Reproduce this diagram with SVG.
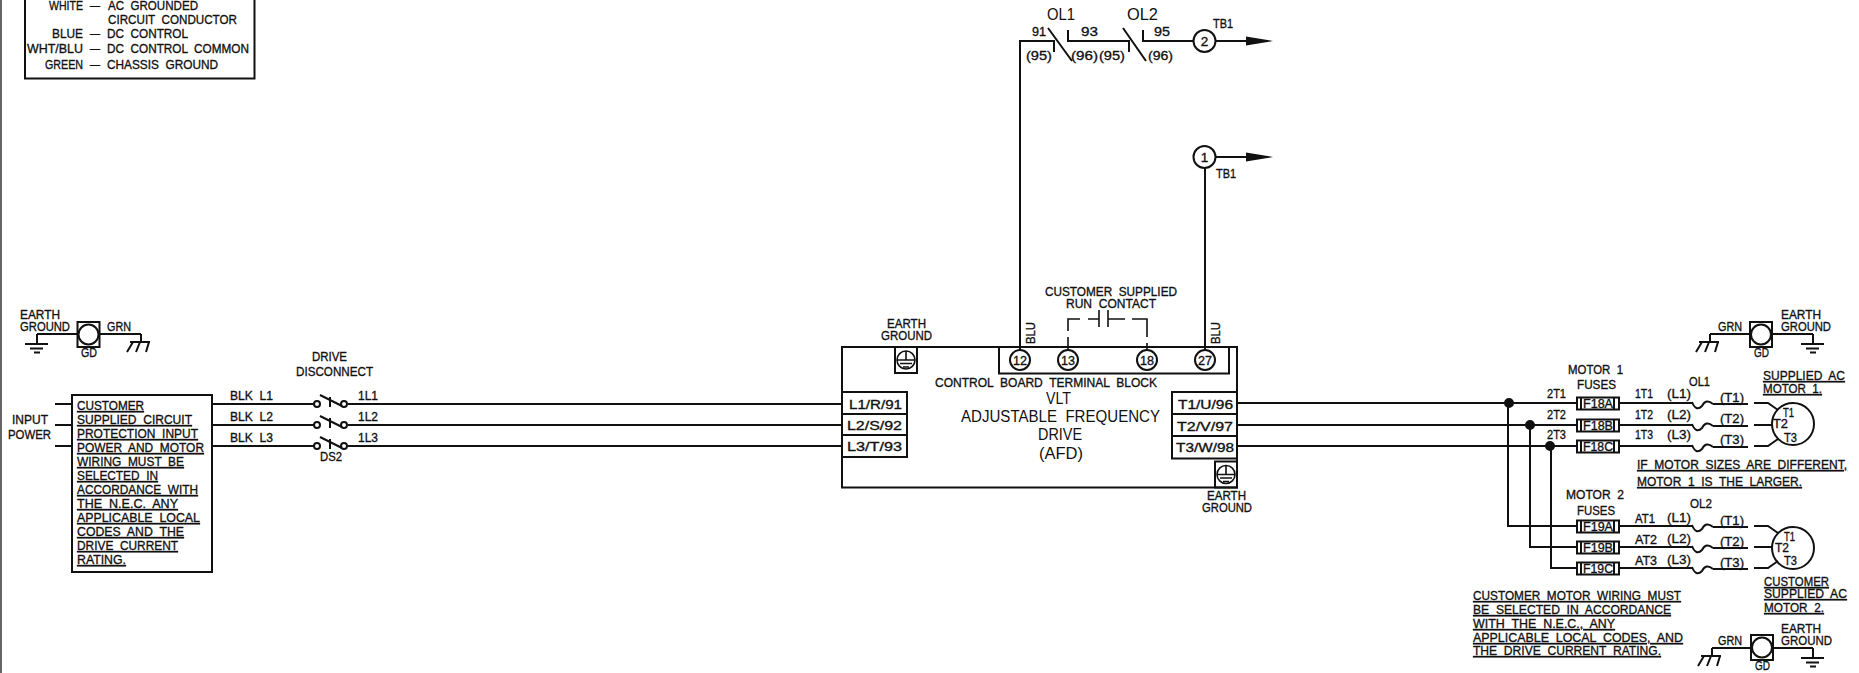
<svg xmlns="http://www.w3.org/2000/svg" width="1859" height="673" viewBox="0 0 1859 673">
<style>
text{font-family:"Liberation Sans",Arial,sans-serif;font-size:13.5px;fill:#111;stroke:#111;stroke-width:.35;white-space:pre}
.u{text-decoration:underline;text-decoration-thickness:1.6px;text-underline-offset:2px}
.l{font-size:16px;stroke-width:0}
.m{text-anchor:middle}
.w,.w *{fill:none;stroke:#111;stroke-width:2}
.t,.t *{fill:none;stroke:#111;stroke-width:1.6}
.d{fill:#111;stroke:#111}
</style>
<defs>
<g id="gnd" class="w"><path d="M0 0V10M-12 10H11M-7 14.500H6M-3 18.500H3"/></g>
<g id="chs" class="w"><path d="M0 0V8M-11 8H9M-8 8L-14 18M-1 8L-5 18M8 8L5 18"/></g>
<g id="gdbox" class="w"><rect x="-11" y="-12.500" width="22" height="25"/><circle r="10"/></g>
<g id="earthbox" class="w"><rect x="-11" y="-13" width="22" height="26"/><circle r="9" class="t"/><path class="t" d="M0 -9V0M-9 0H9M-6 3.500H6M-3 7H3"/></g>
<g id="sw"><circle cx="0" r="3" class="w" fill="none"/><circle cx="27" r="3" class="w" fill="none"/><path class="w" d="M3 -9L25 2M13 -7V3"/></g>
<g id="ol" class="w"><path d="M0 -1Q4 9 10 3Q14 -5 21 1"/></g>
<g id="fuse" class="w"><rect x="0" y="-5.500" width="42" height="12"/><path d="M4 -5.500V6.500M37 -5.500V6.500"/></g>
<marker id="arr" viewBox="0 0 27 10" markerWidth="27" markerHeight="10" refX="0" refY="5" markerUnits="userSpaceOnUse" orient="auto"><path d="M0 0.500L27 5L0 9.500Z" fill="#111"/></marker>
</defs>

<rect x="0" y="0" width="2" height="673" fill="#666"/>

<g id="connectors" class="w">
<path d="M55 404H72M55 425H72M55 446H72"/>
<path d="M212 404H314M212 425H314M212 446H314"/>
<path d="M348 404H842M348 425H842M348 446H842"/>
<path d="M1237 403H1577M1237 425H1577M1237 446H1577"/>
<path d="M1508 403V526H1577M1530 425V547H1577M1551 446V568H1577"/>
<path d="M1619 403H1692M1619 425H1692M1619 446H1692"/>
<path d="M1620 526H1692M1620 547H1692M1620 568H1692"/>
<path d="M1713 404H1748M1713 426H1748M1713 447H1748M1713 527H1748M1713 548H1748M1713 569H1748"/>
<path d="M1754 403H1768L1778 410M1754 425H1772M1754 446H1768L1778 439"/>
<path d="M1754 526H1768L1778 533M1754 547H1772M1754 568H1768L1778 561"/>
<path d="M1020 350V41H1054V52M1048 28L1072 61M1068 30V41H1129V52M1123 28L1146 61M1143 30V41H1194"/>
<path d="M1216 41H1246" marker-end="url(#arr)"/>
<path d="M1216 157H1246" marker-end="url(#arr)"/>
<path d="M1205 168V350"/>
<path class="t" d="M1068 350V337M1068 331V319H1080M1088 319H1099M1099 310V327M1108 310V327M1108 319H1125M1132 319H1147V337M1147 343V350"/>
<circle cx="1509" cy="403" r="4" class="d"/>
<circle cx="1530" cy="425" r="4" class="d"/>
<circle cx="1550" cy="446" r="4" class="d"/>
</g>

<g id="legend">
<path class="w" d="M25 -5V78.500H254.500V-5"/>
<text x="49" y="10" textLength="34" lengthAdjust="spacingAndGlyphs">WHITE</text>
<text x="90" y="10" textLength="10" lengthAdjust="spacingAndGlyphs">–</text>
<text x="108" y="10" textLength="90" lengthAdjust="spacingAndGlyphs">AC  GROUNDED</text>
<text x="108" y="24" textLength="129" lengthAdjust="spacingAndGlyphs">CIRCUIT  CONDUCTOR</text>
<text x="52" y="38" textLength="31" lengthAdjust="spacingAndGlyphs">BLUE</text>
<text x="90" y="38" textLength="10" lengthAdjust="spacingAndGlyphs">–</text>
<text x="107" y="38" textLength="81" lengthAdjust="spacingAndGlyphs">DC  CONTROL</text>
<text x="27" y="53" textLength="56" lengthAdjust="spacingAndGlyphs">WHT/BLU</text>
<text x="90" y="53" textLength="10" lengthAdjust="spacingAndGlyphs">–</text>
<text x="107" y="53" textLength="142" lengthAdjust="spacingAndGlyphs">DC  CONTROL  COMMON</text>
<text x="45" y="69" textLength="38" lengthAdjust="spacingAndGlyphs">GREEN</text>
<text x="90" y="69" textLength="10" lengthAdjust="spacingAndGlyphs">–</text>
<text x="107" y="69" textLength="111" lengthAdjust="spacingAndGlyphs">CHASSIS  GROUND</text>
</g>

<g id="ground-left">
<path class="w" d="M37 334H77M100 334H141"/>
<use href="#gnd" x="37" y="334"/><use href="#chs" x="141" y="334"/><use href="#gdbox" x="88.500" y="334.500"/>
<text x="20" y="319" textLength="40" lengthAdjust="spacingAndGlyphs">EARTH</text>
<text x="20" y="331" textLength="50" lengthAdjust="spacingAndGlyphs">GROUND</text>
<text x="107" y="331" textLength="24" lengthAdjust="spacingAndGlyphs">GRN</text>
<text x="81" y="357" textLength="16" lengthAdjust="spacingAndGlyphs">GD</text>
</g>

<g id="input-power">
<text x="12" y="424" textLength="36" lengthAdjust="spacingAndGlyphs">INPUT</text>
<text x="8" y="439" textLength="43" lengthAdjust="spacingAndGlyphs">POWER</text>
</g>

<g id="protection-box">
<rect class="w" x="72" y="395" width="140" height="177"/>
<text class="u" x="77" y="410" textLength="67" lengthAdjust="spacingAndGlyphs">CUSTOMER</text>
<text class="u" x="77" y="424" textLength="115" lengthAdjust="spacingAndGlyphs">SUPPLIED  CIRCUIT</text>
<text class="u" x="77" y="438" textLength="121" lengthAdjust="spacingAndGlyphs">PROTECTION  INPUT</text>
<text class="u" x="77" y="452" textLength="127" lengthAdjust="spacingAndGlyphs">POWER  AND  MOTOR</text>
<text class="u" x="77" y="466" textLength="107" lengthAdjust="spacingAndGlyphs">WIRING  MUST  BE</text>
<text class="u" x="77" y="480" textLength="81" lengthAdjust="spacingAndGlyphs">SELECTED  IN</text>
<text class="u" x="77" y="494" textLength="121" lengthAdjust="spacingAndGlyphs">ACCORDANCE  WITH</text>
<text class="u" x="77" y="508" textLength="101" lengthAdjust="spacingAndGlyphs">THE  N.E.C.  ANY</text>
<text class="u" x="77" y="522" textLength="123" lengthAdjust="spacingAndGlyphs">APPLICABLE  LOCAL</text>
<text class="u" x="77" y="536" textLength="107" lengthAdjust="spacingAndGlyphs">CODES  AND  THE</text>
<text class="u" x="77" y="550" textLength="101" lengthAdjust="spacingAndGlyphs">DRIVE  CURRENT</text>
<text class="u" x="77" y="564" textLength="49" lengthAdjust="spacingAndGlyphs">RATING.</text>
</g>

<g id="disconnect">
<use href="#sw" x="317" y="404"/><use href="#sw" x="317" y="425"/><use href="#sw" x="317" y="446"/>
<text x="312" y="361" textLength="35" lengthAdjust="spacingAndGlyphs">DRIVE</text>
<text x="296" y="376" textLength="77" lengthAdjust="spacingAndGlyphs">DISCONNECT</text>
<text x="230" y="400" textLength="43" lengthAdjust="spacingAndGlyphs">BLK  L1</text>
<text x="230" y="421" textLength="43" lengthAdjust="spacingAndGlyphs">BLK  L2</text>
<text x="230" y="442" textLength="43" lengthAdjust="spacingAndGlyphs">BLK  L3</text>
<text x="358" y="400" textLength="20" lengthAdjust="spacingAndGlyphs">1L1</text>
<text x="358" y="421" textLength="20" lengthAdjust="spacingAndGlyphs">1L2</text>
<text x="358" y="442" textLength="20" lengthAdjust="spacingAndGlyphs">1L3</text>
<text x="320" y="461" textLength="22" lengthAdjust="spacingAndGlyphs">DS2</text>
</g>

<g id="overloads">
<text class="l" x="1047" y="20" textLength="28" lengthAdjust="spacingAndGlyphs">OL1</text>
<text class="l" x="1127" y="20" textLength="31" lengthAdjust="spacingAndGlyphs">OL2</text>
<text x="1032" y="36" textLength="14" lengthAdjust="spacingAndGlyphs">91</text>
<text x="1026" y="60" textLength="26" lengthAdjust="spacingAndGlyphs">(95)</text>
<text x="1081" y="36" textLength="17" lengthAdjust="spacingAndGlyphs">93</text>
<text x="1071" y="60" textLength="27" lengthAdjust="spacingAndGlyphs">(96)</text>
<text x="1099" y="60" textLength="26" lengthAdjust="spacingAndGlyphs">(95)</text>
<text x="1154" y="36" textLength="16" lengthAdjust="spacingAndGlyphs">95</text>
<text x="1148" y="60" textLength="25" lengthAdjust="spacingAndGlyphs">(96)</text>
</g>

<g id="tb1-2">
<circle class="w" cx="1204.500" cy="41" r="11"/>
<text class="m" x="1204.500" y="46">2</text>
<text x="1213" y="28" textLength="20" lengthAdjust="spacingAndGlyphs">TB1</text>
</g>
<g id="tb1-1">
<circle class="w" cx="1204.500" cy="157" r="11"/>
<text class="m" x="1204.500" y="162">1</text>
<text x="1216" y="178" textLength="20" lengthAdjust="spacingAndGlyphs">TB1</text>
</g>

<g id="afd">
<rect class="w" x="842" y="347" width="395" height="140.500"/>
<rect class="w" x="999" y="347" width="230" height="26.500"/>
<use href="#earthbox" x="906" y="360"/>
<use href="#earthbox" x="1226" y="474.500"/>
<text x="887" y="328" textLength="39" lengthAdjust="spacingAndGlyphs">EARTH</text>
<text x="881" y="340" textLength="51" lengthAdjust="spacingAndGlyphs">GROUND</text>
<text x="1207" y="500" textLength="39" lengthAdjust="spacingAndGlyphs">EARTH</text>
<text x="1202" y="512" textLength="50" lengthAdjust="spacingAndGlyphs">GROUND</text>
<text transform="translate(1035 344) rotate(-90)" textLength="22" lengthAdjust="spacingAndGlyphs">BLU</text>
<text transform="translate(1220 344) rotate(-90)" textLength="22" lengthAdjust="spacingAndGlyphs">BLU</text>
<text x="1045" y="296" textLength="132" lengthAdjust="spacingAndGlyphs">CUSTOMER  SUPPLIED</text>
<text x="1066" y="308" textLength="90" lengthAdjust="spacingAndGlyphs">RUN  CONTACT</text>
<text x="935" y="387" textLength="222" lengthAdjust="spacingAndGlyphs">CONTROL  BOARD  TERMINAL  BLOCK</text>
<text class="l" x="1046" y="404" textLength="25" lengthAdjust="spacingAndGlyphs">VLT</text>
<text class="l" x="961" y="422" textLength="199" lengthAdjust="spacingAndGlyphs">ADJUSTABLE  FREQUENCY</text>
<text class="l" x="1038" y="440" textLength="44" lengthAdjust="spacingAndGlyphs">DRIVE</text>
<text class="l" x="1039" y="459" textLength="44" lengthAdjust="spacingAndGlyphs">(AFD)</text>
<g class="w"><path d="M842 392H907V457H842M842 414H907M842 435H907"/><path d="M1237 392H1172V458.500H1237M1172 414H1237M1172 436H1237"/></g>
<text x="849" y="409" textLength="53" lengthAdjust="spacingAndGlyphs">L1/R/91</text>
<text x="847" y="430" textLength="55" lengthAdjust="spacingAndGlyphs">L2/S/92</text>
<text x="847" y="451" textLength="55" lengthAdjust="spacingAndGlyphs">L3/T/93</text>
<text x="1178" y="409" textLength="55" lengthAdjust="spacingAndGlyphs">T1/U/96</text>
<text x="1177" y="431" textLength="56" lengthAdjust="spacingAndGlyphs">T2/V/97</text>
<text x="1176" y="452" textLength="58" lengthAdjust="spacingAndGlyphs">T3/W/98</text>
</g>

<g id="terminal-12"><circle class="w" cx="1020" cy="360" r="10"/><text class="m" x="1020" y="365" textLength="14" lengthAdjust="spacingAndGlyphs">12</text></g>
<g id="terminal-13"><circle class="w" cx="1068" cy="360" r="10"/><text class="m" x="1068" y="365" textLength="14" lengthAdjust="spacingAndGlyphs">13</text></g>
<g id="terminal-18"><circle class="w" cx="1147" cy="360" r="10"/><text class="m" x="1147" y="365" textLength="14" lengthAdjust="spacingAndGlyphs">18</text></g>
<g id="terminal-27"><circle class="w" cx="1205" cy="360" r="10"/><text class="m" x="1205" y="365" textLength="14" lengthAdjust="spacingAndGlyphs">27</text></g>

<g id="motor1-fuses">
<use href="#fuse" x="1577" y="403"/><use href="#fuse" x="1577" y="425"/><use href="#fuse" x="1577" y="446"/>
<text x="1568" y="374" textLength="55" lengthAdjust="spacingAndGlyphs">MOTOR  1</text>
<text x="1577" y="389" textLength="39" lengthAdjust="spacingAndGlyphs">FUSES</text>
<text x="1547" y="398" textLength="19" lengthAdjust="spacingAndGlyphs">2T1</text>
<text x="1547" y="419" textLength="19" lengthAdjust="spacingAndGlyphs">2T2</text>
<text x="1547" y="439" textLength="19" lengthAdjust="spacingAndGlyphs">2T3</text>
<text x="1583" y="408" textLength="30" lengthAdjust="spacingAndGlyphs">F18A</text>
<text x="1583" y="430" textLength="30" lengthAdjust="spacingAndGlyphs">F18B</text>
<text x="1583" y="451" textLength="30" lengthAdjust="spacingAndGlyphs">F18C</text>
</g>

<g id="motor1-overload">
<use href="#ol" x="1692" y="403"/><use href="#ol" x="1692" y="425"/><use href="#ol" x="1692" y="446"/>
<text x="1689" y="386" textLength="21" lengthAdjust="spacingAndGlyphs">OL1</text>
<text x="1635" y="398" textLength="18" lengthAdjust="spacingAndGlyphs">1T1</text>
<text x="1635" y="419" textLength="18" lengthAdjust="spacingAndGlyphs">1T2</text>
<text x="1635" y="439" textLength="18" lengthAdjust="spacingAndGlyphs">1T3</text>
<text x="1667" y="398" textLength="24" lengthAdjust="spacingAndGlyphs">(L1)</text>
<text x="1667" y="419" textLength="24" lengthAdjust="spacingAndGlyphs">(L2)</text>
<text x="1667" y="439" textLength="24" lengthAdjust="spacingAndGlyphs">(L3)</text>
<text x="1720" y="402" textLength="24" lengthAdjust="spacingAndGlyphs">(T1)</text>
<text x="1720" y="423" textLength="24" lengthAdjust="spacingAndGlyphs">(T2)</text>
<text x="1720" y="444" textLength="24" lengthAdjust="spacingAndGlyphs">(T3)</text>
</g>

<g id="motor1">
<circle class="w" cx="1793" cy="424" r="21"/>
<text x="1783" y="417" textLength="11" lengthAdjust="spacingAndGlyphs">T1</text>
<text x="1773" y="428" textLength="15" lengthAdjust="spacingAndGlyphs">T2</text>
<text x="1784" y="442" textLength="13" lengthAdjust="spacingAndGlyphs">T3</text>
<text class="u" x="1763" y="380" textLength="82" lengthAdjust="spacingAndGlyphs">SUPPLIED  AC</text>
<text class="u" x="1763" y="393" textLength="59" lengthAdjust="spacingAndGlyphs">MOTOR  1.</text>
<text class="u" x="1637" y="469" textLength="210" lengthAdjust="spacingAndGlyphs">IF  MOTOR  SIZES  ARE  DIFFERENT,</text>
<text class="u" x="1637" y="486" textLength="165" lengthAdjust="spacingAndGlyphs">MOTOR  1  IS  THE  LARGER.</text>
</g>

<g id="ground-top-right">
<path class="w" d="M1710 334H1750M1772 334H1813"/>
<use href="#chs" x="1710" y="334"/><use href="#gnd" x="1813" y="334"/><use href="#gdbox" x="1761" y="334.500"/>
<text x="1718" y="331" textLength="24" lengthAdjust="spacingAndGlyphs">GRN</text>
<text x="1781" y="319" textLength="40" lengthAdjust="spacingAndGlyphs">EARTH</text>
<text x="1781" y="331" textLength="50" lengthAdjust="spacingAndGlyphs">GROUND</text>
<text x="1754" y="357" textLength="15" lengthAdjust="spacingAndGlyphs">GD</text>
</g>

<g id="motor2-fuses">
<use href="#fuse" x="1577" y="526"/><use href="#fuse" x="1577" y="547"/><use href="#fuse" x="1577" y="568"/>
<text x="1566" y="499" textLength="58" lengthAdjust="spacingAndGlyphs">MOTOR  2</text>
<text x="1577" y="515" textLength="38" lengthAdjust="spacingAndGlyphs">FUSES</text>
<text x="1583" y="531" textLength="30" lengthAdjust="spacingAndGlyphs">F19A</text>
<text x="1583" y="552" textLength="30" lengthAdjust="spacingAndGlyphs">F19B</text>
<text x="1583" y="573" textLength="30" lengthAdjust="spacingAndGlyphs">F19C</text>
</g>

<g id="motor2-overload">
<use href="#ol" x="1692" y="526"/><use href="#ol" x="1692" y="547"/><use href="#ol" x="1692" y="568"/>
<text x="1690" y="508" textLength="22" lengthAdjust="spacingAndGlyphs">OL2</text>
<text x="1635" y="523" textLength="20" lengthAdjust="spacingAndGlyphs">AT1</text>
<text x="1635" y="544" textLength="22" lengthAdjust="spacingAndGlyphs">AT2</text>
<text x="1635" y="565" textLength="22" lengthAdjust="spacingAndGlyphs">AT3</text>
<text x="1667" y="522" textLength="24" lengthAdjust="spacingAndGlyphs">(L1)</text>
<text x="1667" y="543" textLength="24" lengthAdjust="spacingAndGlyphs">(L2)</text>
<text x="1667" y="564" textLength="24" lengthAdjust="spacingAndGlyphs">(L3)</text>
<text x="1720" y="525" textLength="24" lengthAdjust="spacingAndGlyphs">(T1)</text>
<text x="1720" y="546" textLength="24" lengthAdjust="spacingAndGlyphs">(T2)</text>
<text x="1720" y="567" textLength="24" lengthAdjust="spacingAndGlyphs">(T3)</text>
</g>

<g id="motor2">
<circle class="w" cx="1793" cy="548" r="21"/>
<text x="1784" y="541" textLength="11" lengthAdjust="spacingAndGlyphs">T1</text>
<text x="1775" y="552" textLength="14" lengthAdjust="spacingAndGlyphs">T2</text>
<text x="1784" y="565" textLength="13" lengthAdjust="spacingAndGlyphs">T3</text>
<text class="u" x="1764" y="586" textLength="65" lengthAdjust="spacingAndGlyphs">CUSTOMER</text>
<text class="u" x="1764" y="598" textLength="83" lengthAdjust="spacingAndGlyphs">SUPPLIED  AC</text>
<text class="u" x="1764" y="612" textLength="60" lengthAdjust="spacingAndGlyphs">MOTOR  2.</text>
</g>

<g id="wiring-note">
<text class="u" x="1473" y="600" textLength="208" lengthAdjust="spacingAndGlyphs">CUSTOMER  MOTOR  WIRING  MUST</text>
<text class="u" x="1473" y="614" textLength="198" lengthAdjust="spacingAndGlyphs">BE  SELECTED  IN  ACCORDANCE</text>
<text class="u" x="1473" y="628" textLength="142" lengthAdjust="spacingAndGlyphs">WITH  THE  N.E.C.,  ANY</text>
<text class="u" x="1473" y="642" textLength="210" lengthAdjust="spacingAndGlyphs">APPLICABLE  LOCAL  CODES,  AND</text>
<text class="u" x="1473" y="655" textLength="188" lengthAdjust="spacingAndGlyphs">THE  DRIVE  CURRENT  RATING.</text>
</g>

<g id="ground-bottom-right">
<path class="w" d="M1712 648H1751M1773 648H1813"/>
<use href="#chs" x="1712" y="648"/><use href="#gnd" x="1813" y="648"/><use href="#gdbox" x="1762" y="647.500"/>
<text x="1718" y="645" textLength="24" lengthAdjust="spacingAndGlyphs">GRN</text>
<text x="1781" y="633" textLength="40" lengthAdjust="spacingAndGlyphs">EARTH</text>
<text x="1781" y="645" textLength="51" lengthAdjust="spacingAndGlyphs">GROUND</text>
<text x="1755" y="670" textLength="15" lengthAdjust="spacingAndGlyphs">GD</text>
</g>
</svg>
